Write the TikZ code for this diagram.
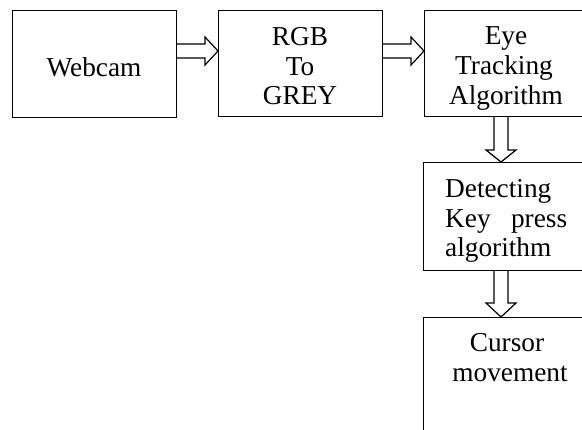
\documentclass[tikz,border=0pt]{standalone}
\usepackage{fontspec}
\setmainfont{Liberation Serif}
\begin{document}
\begin{tikzpicture}[x=1pt,y=-1pt,
  box/.style={draw, line width=1.2pt, anchor=north west, inner sep=0pt, minimum width=164pt},
  lbl/.style={font=\fontsize{27.3}{29.5}\selectfont, anchor=base, inner sep=0pt},
  blk/.style={draw, line width=1.2pt, line join=miter}]
\useasboundingbox (0,0) rectangle (582,430);
\clip (0,0) rectangle (582,430);
% boxes
\node[box, minimum height=107pt] (webcam) at (12,10) {};
\node[box, minimum height=106pt] (rgb) at (218,10) {};
\node[box, minimum height=106pt] (eye) at (424,10) {};
\node[box, minimum height=108pt] (detect) at (423,162) {};
\node[box, minimum height=140pt] (cursor) at (423,317) {};
% texts
\node[lbl] (twebcam) at (94,77) {Webcam};
\node[lbl] (trgb1) at (300,46) {RGB};
\node[lbl] (trgb2) at (300,76) {To};
\node[lbl] (trgb3) at (300,105) {GREY};
\begin{scope}
\clip (eye.north west) rectangle ([yshift=5pt]eye.south east);
\node[lbl] (teye1) at (506,45) {Eye};
\node[lbl] (teye2) at (504,75) {Tracking};
\node[lbl] (teye3) at (506,105) {Algorithm};
\end{scope}
\begin{scope}
\clip (detect.north west) rectangle ([yshift=8pt]detect.south east);
\node[lbl, anchor=base west] (tdet1) at (445,198) {Detecting};
\node[lbl, anchor=base west] (tdet2) at (445,228) {\hbox to 122pt{Key\hfill press}};
\node[lbl, anchor=base west] (tdet3) at (445,257) {algorithm};
\end{scope}
\node[lbl] (tcur1) at (507,352) {Cursor};
\node[lbl] (tcur2) at (510,382) {movement};
% block arrows
\draw[blk] (webcam.east |- 0,44) -- (205,44) -- (205,37) -- (rgb.west |- 0,51) -- (205,65) -- (205,58) -- (webcam.east |- 0,58);
\draw[blk] (rgb.east |- 0,44) -- (411,44) -- (411,37) -- (eye.west |- 0,51) -- (411,65) -- (411,58) -- (rgb.east |- 0,58);
\draw[blk] (494,0 |- eye.south) -- (494,150) -- (486,150) -- (501,0 |- detect.north) -- (516,150) -- (508,150) -- (508,0 |- eye.south);
\draw[blk] (494,0 |- detect.south) -- (494,303) -- (486,303) -- (501,0 |- cursor.north) -- (516,303) -- (508,303) -- (508,0 |- detect.south);
\end{tikzpicture}
\end{document}
